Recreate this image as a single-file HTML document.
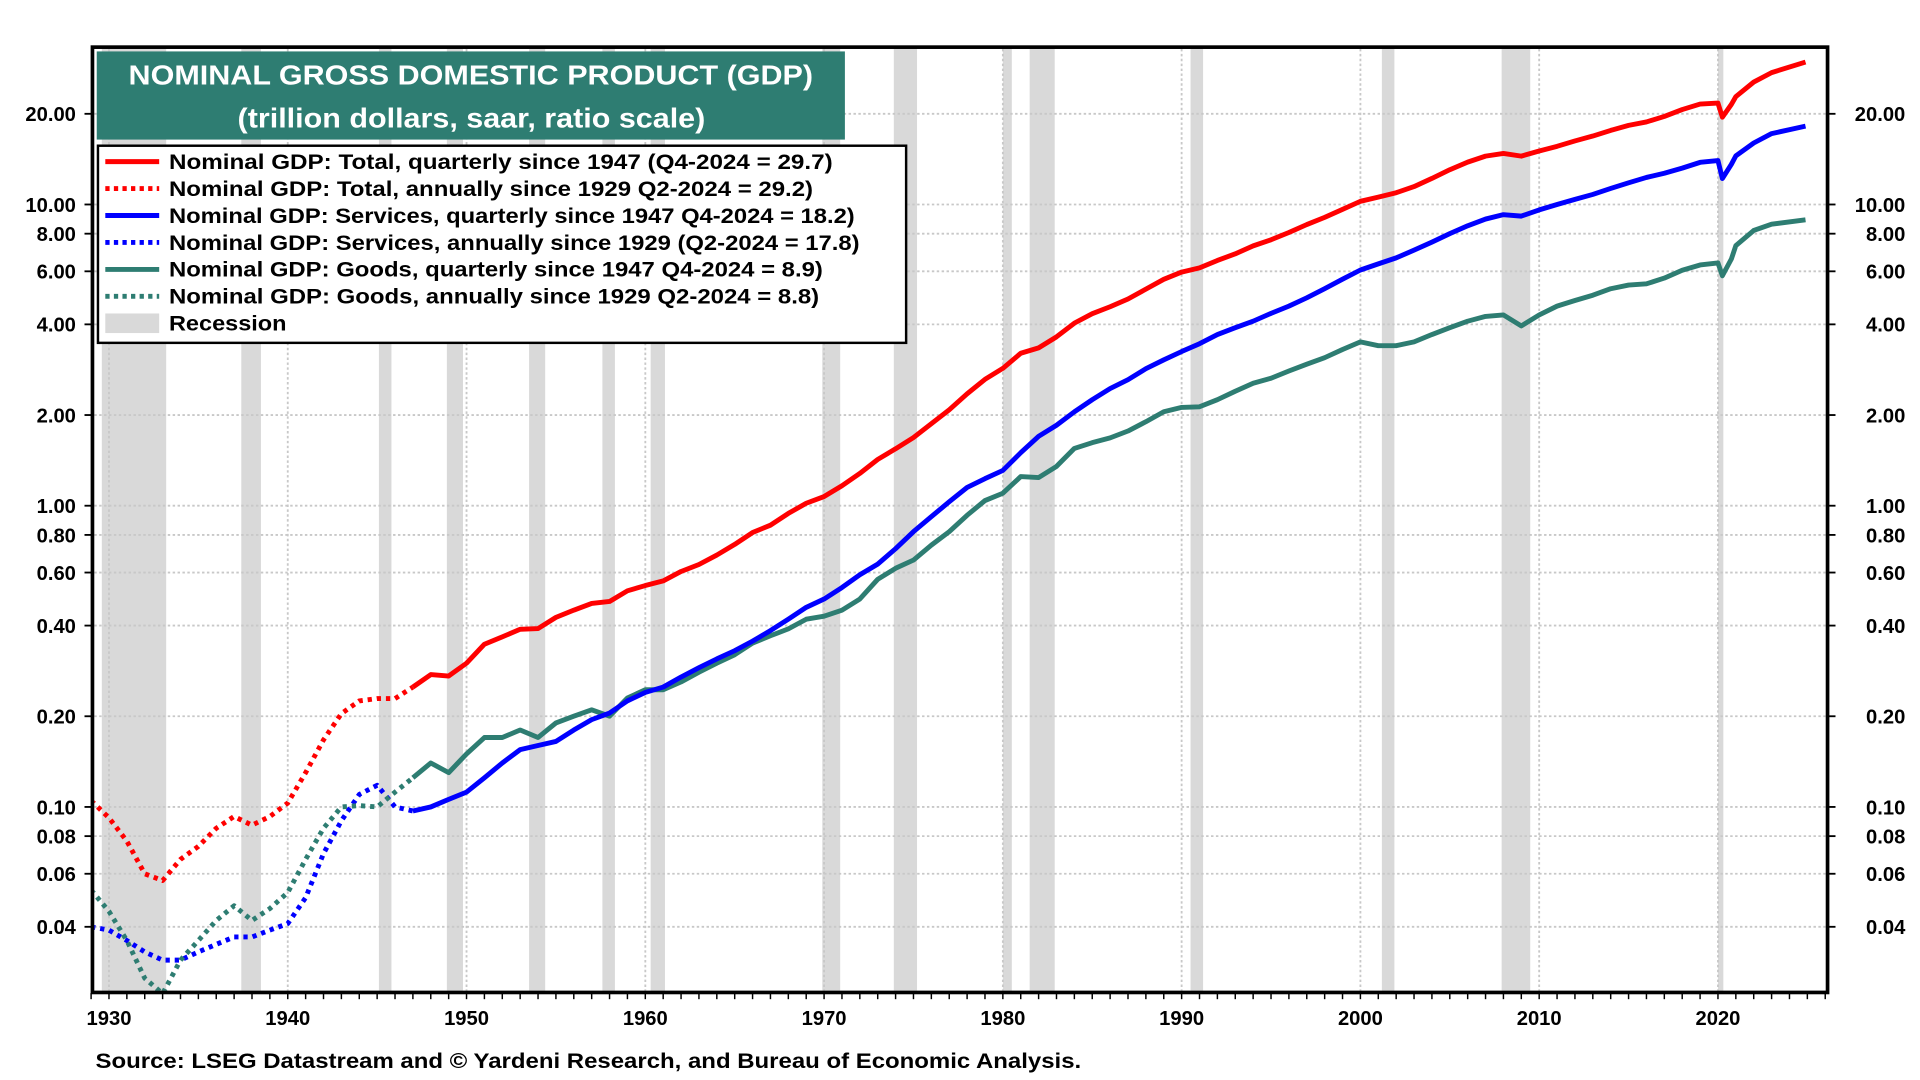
<!DOCTYPE html>
<html><head><meta charset="utf-8"><style>
html,body{margin:0;padding:0;background:#fff;}
svg{display:block;font-family:"Liberation Sans",Arial,sans-serif;font-weight:bold;}
</style></head><body>
<svg id="chart" width="1920" height="1080" viewBox="0 0 1568 882" xmlns="http://www.w3.org/2000/svg">
<defs><clipPath id="plotclip"><rect x="77" y="40" width="1414" height="769"/></clipPath></defs>
<g id="recessions" clip-path="url(#plotclip)"></g>
<g id="grid"></g>
<g id="series" clip-path="url(#plotclip)"></g>
<rect x="75.5" y="38.5" width="1417" height="772" fill="none" stroke="#000" stroke-width="3"/>
<g id="axes"></g>
<g>
<rect x="79" y="42" width="611" height="72" fill="#2e7d72"/>
<text x="105" y="69" fill="#fff" font-size="22.5" textLength="559" lengthAdjust="spacingAndGlyphs">NOMINAL GROSS DOMESTIC PRODUCT (GDP)</text>
<text x="194" y="104" fill="#fff" font-size="22.5" textLength="382" lengthAdjust="spacingAndGlyphs">(trillion dollars, saar, ratio scale)</text>
</g>
<g>
<rect x="80" y="119" width="660" height="161" fill="#fff" stroke="#000" stroke-width="2"/>
<g font-size="17">
<line x1="86" y1="132" x2="130" y2="132" stroke="#ff0000" stroke-width="4"/><text x="138" y="138" textLength="542" lengthAdjust="spacingAndGlyphs">Nominal GDP: Total, quarterly since 1947  (Q4-2024 = 29.7)</text>
<line x1="86" y1="154" x2="130" y2="154" stroke="#ff0000" stroke-width="4" stroke-dasharray="3.5 3.5"/><text x="138" y="160" textLength="526" lengthAdjust="spacingAndGlyphs">Nominal GDP: Total, annually since 1929 Q2-2024 = 29.2)</text>
<line x1="86" y1="176" x2="130" y2="176" stroke="#0000ff" stroke-width="4"/><text x="138" y="182" textLength="560" lengthAdjust="spacingAndGlyphs">Nominal GDP: Services, quarterly since 1947 Q4-2024 = 18.2)</text>
<line x1="86" y1="198" x2="130" y2="198" stroke="#0000ff" stroke-width="4" stroke-dasharray="3.5 3.5"/><text x="138" y="204" textLength="564" lengthAdjust="spacingAndGlyphs">Nominal GDP: Services, annually since 1929 (Q2-2024 = 17.8)</text>
<line x1="86" y1="220" x2="130" y2="220" stroke="#2e7d72" stroke-width="4"/><text x="138" y="226" textLength="534" lengthAdjust="spacingAndGlyphs">Nominal GDP: Goods, quarterly since 1947 Q4-2024 = 8.9)</text>
<line x1="86" y1="242" x2="130" y2="242" stroke="#2e7d72" stroke-width="4" stroke-dasharray="3.5 3.5"/><text x="138" y="248" textLength="531" lengthAdjust="spacingAndGlyphs">Nominal GDP: Goods, annually since 1929 Q2-2024 = 8.8)</text>
<rect x="86" y="256" width="44" height="16" fill="#d9d9d9"/><text x="138" y="270" textLength="96" lengthAdjust="spacingAndGlyphs">Recession</text>
</g></g>
<text x="78" y="872" font-size="17" textLength="805" lengthAdjust="spacingAndGlyphs">Source: LSEG Datastream and © Yardeni Research, and Bureau of Economic Analysis.</text>
</svg>
<script>
const recStart=[1929.6,1937.4,1945.1,1948.9,1953.5,1957.6,1960.3,1969.9,1973.9,1980.0,1981.5,1990.5,2001.2,2007.9,2020.0];
const recEnd=[1933.2,1938.5,1945.8,1949.8,1954.4,1958.3,1961.1,1970.9,1975.2,1980.5,1982.9,1991.2,2001.9,2009.5,2020.3];
const yTicks=[0.04,0.06,0.08,0.10,0.20,0.40,0.60,0.80,1.00,2.00,4.00,6.00,8.00,10.00,20.00];
const xTicks=[1930,1940,1950,1960,1970,1980,1990,2000,2010,2020];
const annYears=[1929,1930,1931,1932,1933,1934,1935,1936,1937,1938,1939,1940,1941,1942,1943,1944,1945,1946,1947];
const totalAnn=[0.105,0.092,0.077,0.060,0.057,0.067,0.074,0.085,0.093,0.087,0.093,0.103,0.130,0.167,0.204,0.225,0.229,0.229,0.250];
const servAnn=[0.040,0.039,0.036,0.033,0.031,0.031,0.033,0.035,0.037,0.037,0.039,0.041,0.050,0.070,0.090,0.110,0.118,0.100,0.097];
const goodsAnn=[0.053,0.045,0.036,0.027,0.024,0.031,0.036,0.042,0.047,0.042,0.046,0.052,0.067,0.085,0.100,0.101,0.100,0.112,0.125];
const qYears=[1947,1948,1949,1950,1951,1952,1953,1954,1955,1956,1957,1958,1959,1960,1961,1962,1963,1964,1965,1966,1967,1968,1969,1970,1971,1972,1973,1974,1975,1976,1977,1978,1979,1980,1981,1982,1983,1984,1985,1986,1987,1988,1989,1990,1991,1992,1993,1994,1995,1996,1997,1998,1999,2000,2001,2002,2003,2004,2005,2006,2007,2008,2009,2010,2011,2012,2013,2014,2015,2016,2017,2018,2019,2020,2020.25,2020.75,2021,2022,2023,2024.9];
const totalQ=[0.250,0.275,0.272,0.300,0.347,0.367,0.389,0.391,0.426,0.450,0.474,0.481,0.522,0.543,0.563,0.605,0.638,0.686,0.744,0.815,0.862,0.943,1.019,1.073,1.165,1.280,1.425,1.545,1.684,1.873,2.082,2.352,2.627,2.857,3.207,3.343,3.634,4.037,4.339,4.579,4.855,5.236,5.642,5.963,6.158,6.520,6.859,7.287,7.640,8.073,8.578,9.063,9.631,10.25,10.58,10.94,11.46,12.21,13.04,13.82,14.47,14.77,14.48,15.05,15.60,16.25,16.88,17.61,18.30,18.80,19.61,20.66,21.54,21.70,19.50,21.50,22.80,25.50,27.40,29.7];
const servQ=[0.097,0.100,0.106,0.112,0.125,0.140,0.155,0.160,0.165,0.180,0.195,0.205,0.225,0.240,0.250,0.270,0.290,0.310,0.330,0.355,0.385,0.420,0.460,0.490,0.535,0.590,0.640,0.720,0.820,0.920,1.03,1.15,1.23,1.31,1.50,1.70,1.85,2.05,2.25,2.45,2.62,2.85,3.05,3.25,3.45,3.70,3.90,4.10,4.35,4.60,4.90,5.25,5.65,6.06,6.35,6.65,7.05,7.50,8.00,8.50,8.95,9.25,9.15,9.60,10.0,10.4,10.8,11.3,11.8,12.3,12.7,13.2,13.8,14.0,12.2,13.6,14.5,16.0,17.2,18.2];
const goodsQ=[0.125,0.140,0.130,0.150,0.170,0.170,0.180,0.170,0.190,0.200,0.210,0.200,0.230,0.245,0.245,0.260,0.280,0.300,0.320,0.350,0.370,0.390,0.420,0.430,0.450,0.490,0.570,0.620,0.660,0.740,0.820,0.930,1.04,1.10,1.25,1.24,1.35,1.55,1.62,1.68,1.77,1.90,2.05,2.12,2.13,2.25,2.40,2.55,2.65,2.80,2.95,3.10,3.30,3.50,3.40,3.40,3.50,3.70,3.90,4.10,4.25,4.30,3.95,4.30,4.60,4.80,5.00,5.25,5.40,5.45,5.70,6.05,6.30,6.40,5.80,6.60,7.30,8.20,8.60,8.9];

const NS="http://www.w3.org/2000/svg";
function xS(yr){return 89+(yr-1930)*14.6;}
function yS(v){return 413-246*Math.log10(v);}
function mk(tag,attrs,parent){const e=document.createElementNS(NS,tag);for(const k in attrs)e.setAttribute(k,attrs[k]);parent.appendChild(e);return e;}
const gRec=document.getElementById('recessions'),gGrid=document.getElementById('grid'),gSer=document.getElementById('series'),gAx=document.getElementById('axes');
recStart.forEach((s,i)=>{
  const r=mk('rect',{x:xS(s),y:40,width:xS(recEnd[i])-xS(s),height:770,fill:'#d9d9d9'},gRec);
  
  
});
yTicks.forEach(v=>{
  const y=yS(v);
  const l=mk('line',{x1:77,x2:1491,y1:y,y2:y,stroke:'#c8c8c8','stroke-width':1.5,'stroke-dasharray':'2 2'},gGrid);
  
  
  mk('line',{x1:69,x2:75,y1:y,y2:y,stroke:'#000','stroke-width':1.5},gAx);
  mk('line',{x1:1493,x2:1499,y1:y,y2:y,stroke:'#000','stroke-width':1.5},gAx);
  const t1=mk('text',{x:62,y:y+6,'text-anchor':'end','font-size':16.5},gAx);t1.textContent=v.toFixed(2);
  
  
  const t2=mk('text',{x:1556,y:y+6,'text-anchor':'end','font-size':16.5},gAx);t2.textContent=v.toFixed(2);
  
  
});
xTicks.forEach(yr=>{
  const x=xS(yr);
  const l=mk('line',{x1:x,x2:x,y1:40,y2:809,stroke:'#c8c8c8','stroke-width':1.5,'stroke-dasharray':'2 2'},gGrid);
  
  
  const t=mk('text',{x:x,y:837,'text-anchor':'middle','font-size':16.5},gAx);t.textContent=yr;
  
  
});
for(let yr=1929;yr<=2026;yr++){mk('line',{x1:xS(yr),x2:xS(yr),y1:811,y2:816,stroke:'#000','stroke-width':1.2},gAx);}
function drawLine(xs,vs,color,dashed,name){
  const d=xs.map((x,i)=>(i?'L':'M')+xS(x).toFixed(1)+' '+yS(vs[i]).toFixed(1)).join(' ');
  const p=mk('path',{d:d,fill:'none',stroke:color,'stroke-width':4,'stroke-linejoin':'round'},gSer);
  if(dashed)p.setAttribute('stroke-dasharray','3.5 4');
  
  
}
drawLine(annYears,totalAnn,'#ff0000',true,'total-annual-line');
drawLine(annYears,servAnn,'#0000ff',true,'services-annual-line');
drawLine(annYears,goodsAnn,'#2e7d72',true,'goods-annual-line');
drawLine(qYears,goodsQ,'#2e7d72',false,'goods-quarterly-line');
drawLine(qYears,servQ,'#0000ff',false,'services-quarterly-line');
drawLine(qYears,totalQ,'#ff0000',false,'total-quarterly-line');
</script>
</body></html>
